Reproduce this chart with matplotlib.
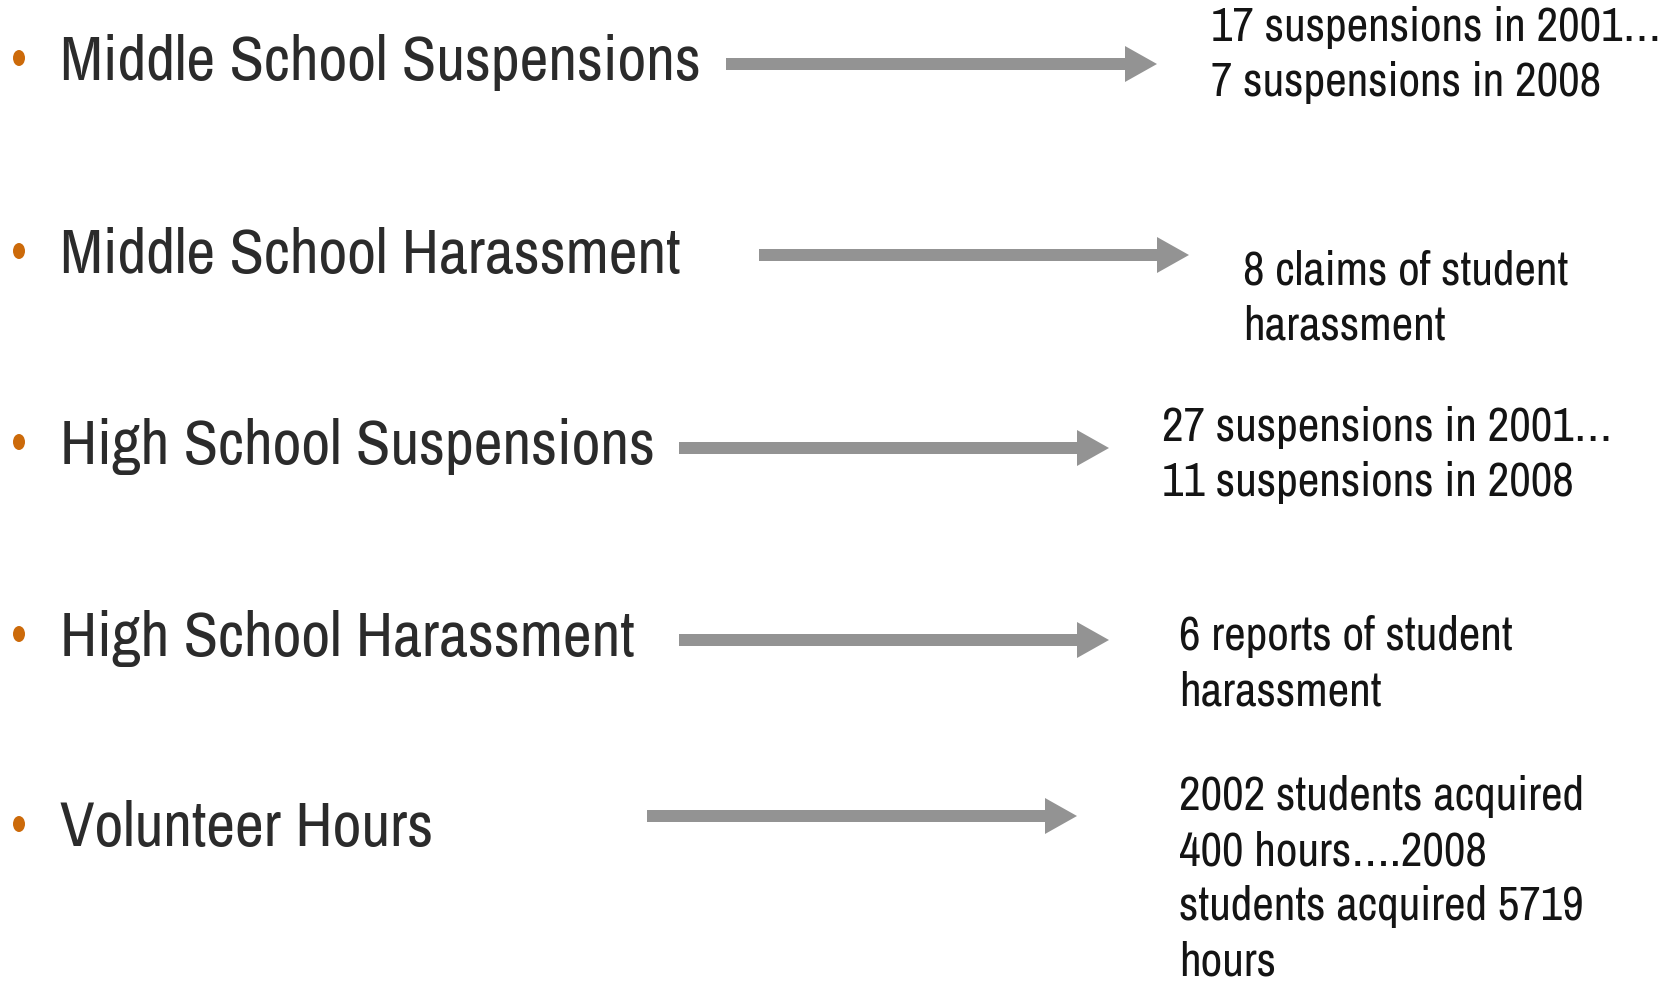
import matplotlib
matplotlib.use("Agg")
import matplotlib.pyplot as plt
from matplotlib.patches import FancyArrow, Ellipse
from matplotlib import font_manager

# ---- data (text content) ----
labels = [
    "Middle School Suspensions",
    "Middle School Harassment",
    "High School Suspensions",
    "High School Harassment",
    "Volunteer Hours",
]
outcomes = [
    ["17 suspensions in 2001\u2026", "7 suspensions in 2008"],
    ["8 claims of student", "harassment"],
    ["27 suspensions in 2001\u2026", "11 suspensions in 2008"],
    ["6 reports of student", "harassment"],
    ["2002 students acquired", "400 hours\u2026.2008", "students acquired 5719", "hours"],
]

# ---- layout (pixel coordinates of the 1680x988 canvas) ----
W, H = 1680, 988
label_x = 60
bullet_x = 19
label_base = [80, 273, 464, 656, 846]
arrow_y = [64, 255, 448, 640, 816]
arrow_x0 = [726, 759, 679, 679, 647]
arrow_x1 = [1157, 1189, 1109, 1109, 1077]
out_x = [1211, 1243, 1162, 1179, 1179]
out_base0 = [41, 284, 441, 650, 810]
line_step = 55
label_target_w = 642   # width of first label in reference
out_target_w = 390     # width of "7 suspensions in 2008" in reference

names = {f.name for f in font_manager.fontManager.ttflist}
cands = ["Liberation Sans Narrow", "Nimbus Sans Narrow", "Arial Narrow",
         "Archivo Narrow", "PT Sans Narrow", "Roboto Condensed",
         "Pragati Narrow", "Sofia Sans Condensed", "Fira Sans Condensed",
         "Liberation Sans"]
fam = next(c for c in cands if c in names)

fig = plt.figure(figsize=(W / 100, H / 100), dpi=100)
ax = fig.add_axes([0, 0, 1, 1])
ax.set_xlim(0, W)
ax.set_ylim(H, 0)
ax.axis("off")
renderer = fig.canvas.get_renderer()


def fit_size(text, target_w, max_size):
    t = ax.text(0, 0, text, fontsize=max_size, family=fam)
    w = t.get_window_extent(renderer).width
    t.remove()
    return min(max_size, max_size * target_w / w)


label_fs = fit_size(labels[0], label_target_w, 46)
out_fs = fit_size(outcomes[0][1], out_target_w, 34)

for i, lab in enumerate(labels):
    ax.add_patch(Ellipse((bullet_x, label_base[i] - 22), 12, 16,
                         color="#cc6a0a", lw=0))
    ax.text(label_x, label_base[i], lab, fontsize=label_fs, family=fam,
            color="#2b2b2b", va="baseline", ha="left")
    ax.add_patch(FancyArrow(arrow_x0[i], arrow_y[i],
                            arrow_x1[i] - arrow_x0[i], 0,
                            width=12, head_width=36, head_length=32,
                            length_includes_head=True,
                            color="#939393", lw=0))
    for j, line in enumerate(outcomes[i]):
        ax.text(out_x[i], out_base0[i] + j * line_step, line, fontsize=out_fs,
                family=fam, color="#141414", va="baseline", ha="left")

fig.savefig("out.png", dpi=100, facecolor="white")
